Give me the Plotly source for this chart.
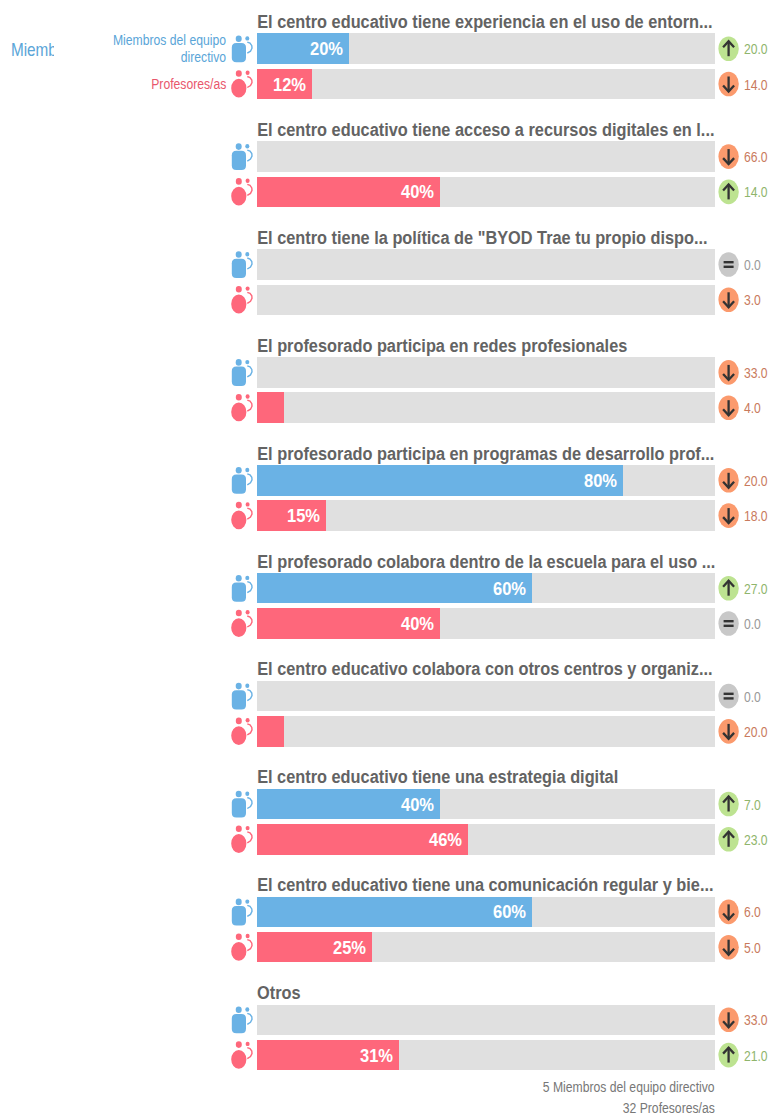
import plotly.graph_objects as go

categories = [
    "El centro educativo tiene experiencia en el uso de entorn...",
    "El centro educativo tiene acceso a recursos digitales en l...",
    'El centro tiene la política de "BYOD Trae tu propio dispo...',
    "El profesorado participa en redes profesionales",
    "El profesorado participa en programas de desarrollo prof...",
    "El profesorado colabora dentro de la escuela para el uso ...",
    "El centro educativo colabora con otros centros y organiz...",
    "El centro educativo tiene una estrategia digital",
    "El centro educativo tiene una comunicación regular y bie...",
    "Otros",
]
directivo = [20, 0, 0, 0, 80, 60, 0, 40, 60, 0]
profesores = [12, 40, 0, 6, 15, 40, 6, 46, 25, 31]
directivo_delta = [20, -66, 0, -33, -20, 27, 0, 7, -6, -33]
profesores_delta = [-14, 14, -3, -4, -18, 0, -20, 23, -5, 21]
series_label_lines = ["Miembros del equipo", "directivo"]
series_label_2 = "Profesores/as"
footer = ["5 Miembros del equipo directivo", "32 Profesores/as"]

W, H = 770, 1117
X0, X1 = 257, 715
PERIOD = 107.9
BLUE, RED = "#6ab2e5", "#fe677b"
TEXT = "#636363"
FONT = "Liberation Sans, Arial, sans-serif"
ROW_Y = [[48.7 + i * PERIOD, 84 + i * PERIOD] for i in range(len(categories))]
y_blue = [r[0] for r in ROW_Y]
y_red = [r[1] for r in ROW_Y]


def px(x):
    return x / W


def py(y):
    return 1 - y / H


fig = go.Figure()
fig.add_trace(go.Bar(x=[100] * len(categories) * 2, y=y_blue + y_red, orientation="h", width=30.5,
                     marker=dict(color="#e0e0e0", line_width=0), hoverinfo="skip", showlegend=False))
for vals, ys, col in ((directivo, y_blue, BLUE), (profesores, y_red, RED)):
    fig.add_trace(go.Bar(x=vals, y=ys, orientation="h", width=30.5, marker=dict(color=col, line_width=0),
                         showlegend=False))

# clipped header text, as in the reference
fig.add_trace(go.Scatter(x=[0], y=[52], xaxis="x2", mode="text", text=["Miembros del equipo directivo"],
                         textposition="middle right", cliponaxis=True, showlegend=False, hoverinfo="skip",
                         textfont=dict(family=FONT, size=18, color="#5aa5d8")))

shapes = []
annotations = []


def ellipse(cx, cy, rx, ry, color):
    shapes.append(dict(type="circle", xref="paper", yref="paper", x0=px(cx - rx), x1=px(cx + rx),
                       y0=py(cy - ry), y1=py(cy + ry), fillcolor=color, line_width=0))


def path(points, color, width=1.6, close=False, fill=None):
    d = "M " + " L ".join(f"{px(a):.5f},{py(b):.5f}" for a, b in points) + (" Z" if close else "")
    shapes.append(dict(type="path", xref="paper", yref="paper", path=d, line=dict(color=color, width=width),
                       fillcolor=fill or "rgba(0,0,0,0)"))


def arc(cy, color):
    pts = [(247.3, cy - 6.5), (250, cy - 5.5), (251.8, cy - 3), (252, cy - 0.5), (250.5, cy + 2.5), (247.3, cy + 4.5)]
    path(pts, color, 1.4)


def rounded(x0, x1, y0, y1, r, color):
    p = lambda a, b: f"{px(a):.5f},{py(b):.5f}"
    d = (f"M {p(x0 + r, y0)} L {p(x1 - r, y0)} Q {p(x1, y0)} {p(x1, y0 + r)} L {p(x1, y1 - r)} "
         f"Q {p(x1, y1)} {p(x1 - r, y1)} L {p(x0 + r, y1)} Q {p(x0, y1)} {p(x0, y1 - r)} "
         f"L {p(x0, y0 + r)} Q {p(x0, y0)} {p(x0 + r, y0)} Z")
    shapes.append(dict(type="path", xref="paper", yref="paper", path=d, line_width=0, fillcolor=color))


def blue_icon(cy):
    rounded(231.8, 246, cy - 5.8, cy + 13.5, 4.5, BLUE)
    ellipse(238.7, cy - 10, 3, 3.3, BLUE)
    ellipse(247.3, cy - 10.3, 2, 2.2, BLUE)
    arc(cy, BLUE)


def red_icon(cy):
    ellipse(238.8, cy + 4.2, 7.6, 9.4, RED)
    ellipse(238.8, cy - 10.5, 3, 3.3, RED)
    ellipse(247.6, cy - 11.2, 2, 2.2, RED)
    arc(cy - 1, RED)


def delta(cy, v):
    cx = 728.6
    if v > 0:
        fill, col, sign = "#bde391", "#8fb56c", 1
    elif v < 0:
        fill, col, sign = "#fb9a6d", "#c97a5c", -1
    else:
        fill, col, sign = "#c8c8c8", "#999999", 0
    ellipse(cx, cy, 10.2, 12.3, fill)
    dark = "#333333"
    if sign:
        tip, tail = cy - sign * 7.5, cy + sign * 7.5
        path([(cx, tip), (cx, tail)], dark, 2.3)
        path([(cx - 5.5, tip + sign * 6), (cx, tip), (cx + 5.5, tip + sign * 6)], dark, 2.3)
    else:
        path([(cx - 5, cy - 2.3), (cx + 5, cy - 2.3)], dark, 2.4)
        path([(cx - 5, cy + 2.3), (cx + 5, cy + 2.3)], dark, 2.4)
    annotations.append(dict(x=px(744), y=py(cy), xref="paper", yref="paper", text=f"{abs(v):.1f}", showarrow=False,
                            xanchor="left", yanchor="middle", xshift=-2, font=dict(family=FONT, size=15, color=col)))


for i, cat in enumerate(categories):
    annotations.append(dict(x=px(257), y=py(21.5 + i * PERIOD), xref="paper", yref="paper", text=f"<b>{cat}</b>",
                            showarrow=False, xanchor="left", yanchor="middle", xshift=-2,
                            font=dict(family=FONT, size=19, color=TEXT)))
    blue_icon(y_blue[i])
    red_icon(y_red[i])
    delta(y_blue[i], directivo_delta[i])
    delta(y_red[i], profesores_delta[i])

for vals, ys in ((directivo, y_blue), (profesores, y_red)):
    for v, yy in zip(vals, ys):
        if v >= 10:
            annotations.append(dict(x=v, y=yy, xref="x", yref="y", text=f"<b>{v}%</b>", showarrow=False,
                                    xanchor="right", yanchor="middle", xshift=-4,
                                    font=dict(family=FONT, size=19, color="white")))

for t, yy in zip(series_label_lines, (39.5, 57.5)):
    annotations.append(dict(x=px(228), y=py(yy), xref="paper", yref="paper", text=t, showarrow=False,
                            xanchor="right", yanchor="middle", font=dict(family=FONT, size=14, color="#5aa5d8")))
annotations.append(dict(x=px(228), y=py(84), xref="paper", yref="paper", text=series_label_2, showarrow=False,
                        xanchor="right", yanchor="middle", font=dict(family=FONT, size=14, color="#e9566c")))
for t, yy in zip(footer, (1086.5, 1108)):
    annotations.append(dict(x=px(717), y=py(yy), xref="paper", yref="paper", text=t, showarrow=False,
                            xanchor="right", yanchor="middle", font=dict(family=FONT, size=14, color="#777777")))

fig.update_layout(
    width=W, height=H, autosize=False, margin=dict(l=0, r=0, t=0, b=0), barmode="overlay",
    paper_bgcolor="white", plot_bgcolor="white", bargap=0, font=dict(family=FONT),
    xaxis=dict(domain=[px(X0), px(X1)], range=[0, 100], visible=False, fixedrange=True),
    xaxis2=dict(domain=[0, px(54)], range=[-11, 43], visible=False, anchor="y", fixedrange=True),
    yaxis=dict(domain=[0, 1], range=[H, 0], visible=False, fixedrange=True),
    shapes=shapes, annotations=annotations,
)

# The reference's text is horizontally condensed: narrow each text about its anchor side.
post = """
document.body.style.margin = '0';
document.documentElement.style.overflow = 'hidden';
var gd = document.getElementById('{plot_id}');
function squeeze(t, k, side) {
  var b = t.getBBox();
  var ox = side === 'left' ? b.x : (side === 'right' ? b.x + b.width : b.x + b.width / 2);
  t.setAttribute('transform', 'translate(' + ox + ',0) scale(' + k + ',1) translate(' + (-ox) + ',0)');
}
gd.querySelectorAll('.annotation').forEach(function (g) {
  var a = gd.layout.annotations[+g.getAttribute('data-index')];
  var t = g.querySelector('text');
  var pct = a.text.indexOf('%') > 0;
  var bold = a.text.indexOf('<b>') === 0;
  var size = a.font.size;
  squeeze(t, pct ? 0.87 : (bold ? 0.86 : (size === 14 ? 0.87 : 0.81)), a.xanchor);
});
gd.querySelectorAll('.textpoint text').forEach(function (t) { squeeze(t, 0.85, 'left'); });
"""
fig.write_html("out.html", config={"displayModeBar": False}, post_script=post)
